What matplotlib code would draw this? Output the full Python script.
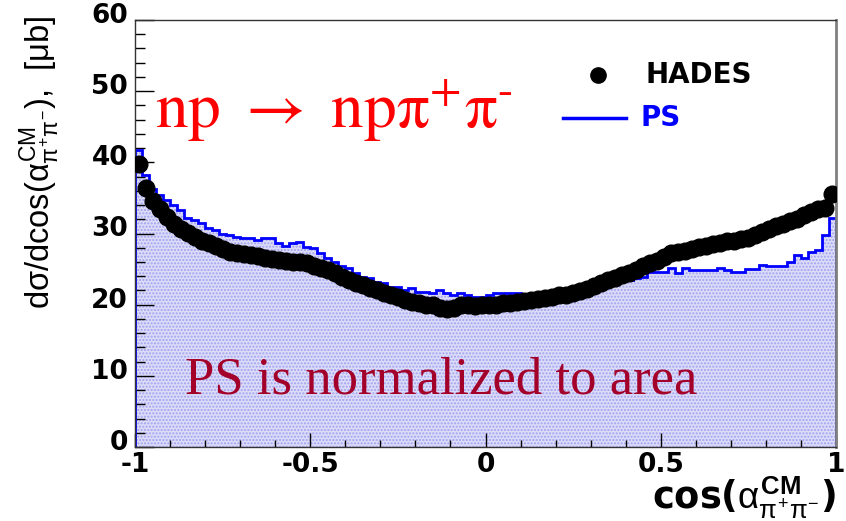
import numpy as np
import matplotlib
matplotlib.use("Agg")
import matplotlib.pyplot as plt
import matplotlib.transforms as mtransforms
from matplotlib.ticker import MultipleLocator
from matplotlib.lines import Line2D

# ---------------- data ----------------
bin_edges = np.linspace(-1.0, 1.0, 101)
bin_centers = 0.5 * (bin_edges[:-1] + bin_edges[1:])

ps_values = [
    41.7, 38.2, 36.3, 35.4, 34.7, 34.0, 33.3, 32.2, 31.9, 31.5,
    30.8, 30.5, 30.0, 29.8, 29.5, 29.4, 29.3, 29.1, 29.3, 29.3,
    28.6, 28.2, 28.7, 28.8, 28.1, 27.9, 27.2, 26.5, 26.0, 25.5,
    25.1, 24.4, 23.9, 23.7, 23.2, 23.0, 22.5, 22.5, 22.0, 22.3,
    21.8, 21.8, 21.6, 22.0, 21.6, 21.4, 21.6, 21.4, 21.1, 21.1,
    21.3, 21.6, 21.7, 21.6, 21.6, 21.3, 21.4, 21.5, 21.6, 21.8,
    21.9, 22.0, 22.1, 22.3, 22.4, 22.5, 22.7, 22.9, 23.1, 23.3,
    23.5, 23.7, 23.9, 24.6, 24.6, 24.6, 25.2, 24.5, 25.2, 24.9,
    24.9, 24.9, 24.9, 25.2, 24.9, 24.6, 24.6, 25.0, 25.0, 25.6,
    25.4, 25.4, 25.4, 26.0, 27.0, 26.5, 27.4, 27.7, 29.8, 32.2,
]

hades_values = [
    39.8, 36.4, 34.5, 33.4, 32.3, 31.3, 30.7, 30.1, 29.5, 29.0,
    28.6, 28.2, 27.8, 27.4, 27.3, 27.1, 27.0, 26.8, 26.6, 26.4,
    26.3, 26.1, 26.0, 26.0, 25.8, 25.5, 25.2, 24.9, 24.5, 23.9,
    23.5, 23.1, 22.7, 22.3, 22.0, 21.7, 21.4, 21.1, 20.7, 20.4,
    20.2, 20.0, 19.9, 19.6, 19.4, 19.6, 19.9, 20.0, 19.8, 19.9,
    19.9, 20.0, 20.2, 20.3, 20.4, 20.5, 20.7, 20.8, 21.0, 21.1,
    21.3, 21.4, 21.6, 21.9, 22.2, 22.6, 23.0, 23.4, 23.8, 24.1,
    24.5, 24.9, 25.4, 25.9, 26.1, 26.7, 27.2, 27.4, 27.6, 27.8,
    28.1, 28.3, 28.5, 28.7, 28.9, 29.0, 29.2, 29.4, 29.8, 30.2,
    30.6, 31.0, 31.4, 31.8, 32.1, 32.6, 33.0, 33.4, 33.6, 35.5,
]

x_ticks = [-1, -0.5, 0, 0.5, 1]
x_tick_labels = ["-1", "-0.5", "0", "0.5", "1"]
y_ticks = [0, 10, 20, 30, 40, 50, 60]
y_tick_labels = ["0", "10", "20", "30", "40", "50", "60"]

# ---------------- style ----------------
plt.rcParams["mathtext.fontset"] = "custom"
plt.rcParams["mathtext.rm"] = "Liberation Sans"
plt.rcParams["mathtext.it"] = "Liberation Sans"
plt.rcParams["mathtext.bf"] = "Liberation Sans:bold"
plt.rcParams["hatch.linewidth"] = 1.0

W, H = 846, 521
fig = plt.figure(figsize=(W / 100, H / 100), dpi=100)
ax = fig.add_axes([135 / W, 74 / H, 701 / W, 427 / H])

def fx(px):
    return px / W

def fy(py):
    return 1 - py / H

# PS histogram (filled + outline)
ax.stairs(ps_values, bin_edges, fill=True, facecolor="#dcdcf8",
          edgecolor="#a0a0f0", hatch=".....", linewidth=0, zorder=1)
ax.stairs(ps_values, bin_edges, baseline=0, color="#0000ff",
          linewidth=2.0, zorder=2)

# HADES data points
ax.plot(bin_centers, hades_values, "o", color="black", markersize=12,
        zorder=3)

ax.set_xlim(-1, 1)
ax.set_ylim(0, 60)
ax.set_xticks(x_ticks)
ax.set_xticklabels(x_tick_labels)
ax.set_yticks(y_ticks)
ax.set_yticklabels(y_tick_labels)
ax.xaxis.set_minor_locator(MultipleLocator(0.1))
ax.yaxis.set_minor_locator(MultipleLocator(2))
ax.tick_params(axis="y", which="major", direction="in", length=14, width=1,
               pad=5, labelsize=19)
ax.tick_params(axis="y", which="minor", direction="in", length=7, width=1)
ax.tick_params(axis="x", which="major", direction="in", length=10, width=1,
               pad=3.5, labelsize=19)
ax.tick_params(axis="x", which="minor", direction="in", length=5, width=1)
for lab in ax.get_xticklabels() + ax.get_yticklabels():
    lab.set_fontweight("bold")
    lab.set_family("DejaVu Sans")
# y tick labels sit slightly above their ticks (as in the reference)
shift_up = mtransforms.ScaledTranslation(0, 7 / 100, fig.dpi_scale_trans)
for lab in ax.get_yticklabels():
    lab.set_transform(lab.get_transform() + shift_up)

for s in ["left", "bottom", "top"]:
    ax.spines[s].set_linewidth(1.0)
    ax.spines[s].set_color("#333333")
ax.spines["right"].set_linewidth(2.0)
ax.spines["right"].set_color("#808080")

# axis titles
fig.text(fx(40), fy(16),
         r"d$\sigma$/dcos($\alpha^{\mathrm{CM}}_{\pi^{+}\pi^{-}}$),  [$\mu$b]",
         rotation=90, ha="center", va="top", fontsize=23.5,
         family="Liberation Sans")
fig.text(fx(836), fy(521),
         r"cos($\alpha^{\mathbf{CM}}_{\pi^{+}\pi^{-}}$)",
         ha="right", va="bottom", fontsize=26.5, fontweight="bold",
         family="DejaVu Sans")

# legend (manual)
fig.add_artist(Line2D([fx(598)], [fy(75)], marker="o", color="black",
                      markersize=11, linestyle="none"))
fig.text(fx(645), fy(75), "HADES", ha="left", va="center", fontsize=20,
         fontweight="bold", family="DejaVu Sans", color="black")
fig.add_artist(Line2D([fx(563), fx(626)], [fy(118), fy(118)],
                      color="#0000ff", linewidth=2.5))
fig.text(fx(640), fy(118), "PS", ha="left", va="center", fontsize=20,
         fontweight="bold", family="DejaVu Sans", color="#0000ff")

# annotations
fig.text(fx(155), fy(128),
         r"$\mathrm{np}\ \rightarrow\ \mathrm{np\pi^{+}\pi^{\text{-}}}$",
         ha="left", va="baseline", fontsize=47, color="#ff0000",
         math_fontfamily="stix")
fig.text(fx(185), fy(393), "PS is normalized to area", ha="left",
         va="baseline", fontsize=38, color="#a3002a",
         family="Liberation Serif")

fig.savefig("out.png", dpi=100)
